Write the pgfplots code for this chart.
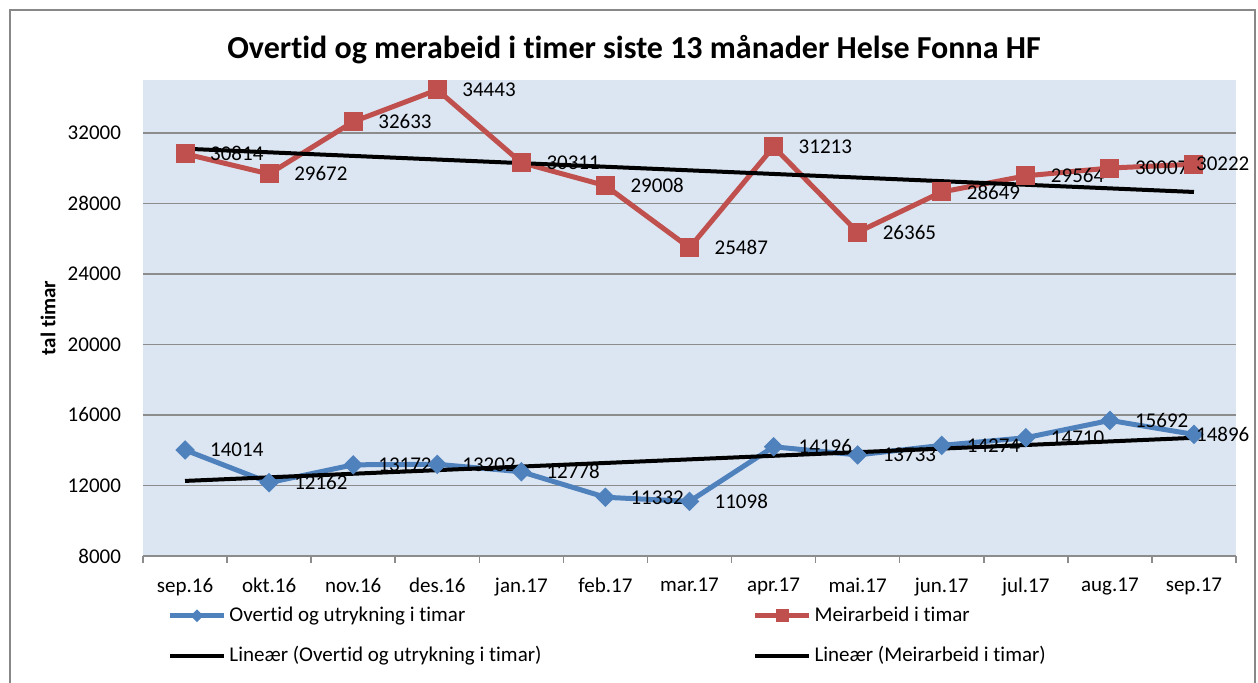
\documentclass[border=0pt]{standalone}
\usepackage{fontspec}
\setmainfont{Carlito}[Ligatures=NoCommon]
\usepackage{pgfplots}
\pgfplotsset{compat=1.18}
\definecolor{plotbg}{HTML}{DCE6F2}
\definecolor{gridc}{HTML}{8C8C8C}
\definecolor{redc}{HTML}{C0504D}
\definecolor{bluec}{HTML}{4F81BD}
\definecolor{framec}{HTML}{888888}
\begin{document}
\begin{tikzpicture}
\useasboundingbox (-71.5pt,-63pt) rectangle (557.5pt,278pt);
\draw[framec, line width=1pt] (-66.5pt,-70pt) -- (-66.5pt,273pt) -- (556pt,273pt) -- (556pt,-70pt);
\node[font=\fontsize{16}{19}\selectfont\bfseries] at (245.5pt,253pt) {Overtid og merabeid i timer siste 13 månader Helse Fonna HF};
\node[font=\fontsize{10.5}{12}\selectfont\bfseries, rotate=90] at (-47.5pt,119pt) {tal timar};
\begin{axis}[
  at={(0pt,0pt)}, anchor=south west,
  scale only axis, width=546.5pt, height=238pt,
  xmin=-0.5, xmax=12.5, ymin=8000, ymax=35000,
  axis background/.style={fill=plotbg},
  axis lines*=left,
  y axis line style={draw=none},
  x axis line style={gridc, line width=0.8pt},
  ytick={8000,12000,...,32000},
  ymajorgrids, grid style={gridc, line width=0.8pt},
  ytick style={draw=none},
  xtick={-0.5,0.5,...,12.5},
  x tick label as interval,
  xticklabels={sep.16,okt.16,nov.16,des.16,jan.17,feb.17,mar.17,apr.17,mai.17,jun.17,jul.17,aug.17,sep.17},
  xtick style={gridc, line width=0.8pt},
  tick align=outside, major tick length=3.5pt,
  ticklabel style={font=\fontsize{10.5}{12}\selectfont},
  yticklabel style={xshift=-4pt},
  xticklabel style={yshift=-4pt},
  scaled y ticks=false,
  /pgf/number format/.cd, 1000 sep={}, assume math mode=true, /pgfplots/.cd,
  clip=false,
  every node near coord/.append style={anchor=west, xshift=9pt, black, font=\fontsize{10.5}{12}\selectfont},
  legend columns=2,
  legend cell align=left,
  legend style={draw=none, fill=none, inner sep=0pt, at={(axis description cs:0.022,-0.10)}, anchor=north west,
    font=\fontsize{10.5}{12}\selectfont, row sep=8pt, nodes={inner sep=1.5pt},
    /tikz/every even column/.append style={column sep=104pt}},
  legend image code/.code={\draw[mark repeat=2,mark phase=2,#1] plot coordinates {(0pt,0pt) (13.5pt,0pt) (27pt,0pt)};},
]
\addlegendimage{bluec, line width=2.5pt, mark=square*, mark size=2pt, mark options={rotate=45, solid, line width=0.5pt}}
\addlegendentry{Overtid og utrykning i timar}
\addlegendimage{redc, line width=2.5pt, mark=square*, mark size=3pt, mark options={solid, line width=0.5pt}}
\addlegendentry{Meirarbeid i timar}
\addlegendimage{black, line width=2pt, no marks}
\addlegendentry{Lineær (Overtid og utrykning i timar)}
\addlegendimage{black, line width=2pt, no marks}
\addlegendentry{Lineær (Meirarbeid i timar)}
\addplot[forget plot, bluec, line width=2.5pt, mark=square*, mark size=3.2pt, mark options={rotate=45, solid, line width=0.5pt}, nodes near coords,
  coordinate style/.condition={x==12}{xshift=-11.5pt}]
 coordinates {(0,14014) (1,12162) (2,13172) (3,13202) (4,12778) (5,11332) (6,11098) (7,14196) (8,13733) (9,14274) (10,14710) (11,15692) (12,14896)};
\addplot[forget plot, redc, line width=2.5pt, mark=square*, mark size=4.5pt, mark options={solid, line width=0.5pt}, nodes near coords,
  coordinate style/.condition={x==12}{xshift=-11.5pt}]
 coordinates {(0,30814) (1,29672) (2,32633) (3,34443) (4,30311) (5,29008) (6,25487) (7,31213) (8,26365) (9,28649) (10,29564) (11,30007) (12,30222)};
\addplot[forget plot, black, line width=2pt, no marks] coordinates {(0,12258.9) (12,14704.0)};
\addplot[forget plot, black, line width=2pt, no marks] coordinates {(0,31103) (12,28649)};
\end{axis}
\end{tikzpicture}
\end{document}
